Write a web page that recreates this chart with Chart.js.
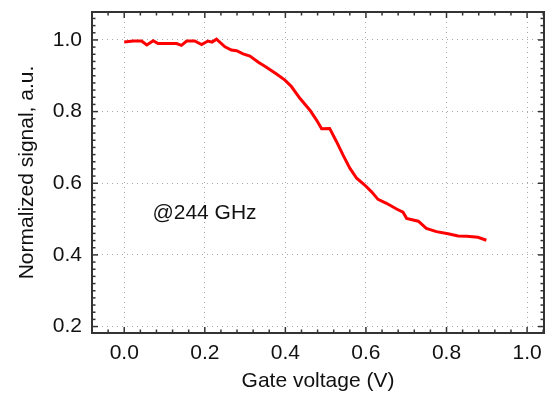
<!DOCTYPE html>
<html>
<head>
<meta charset="utf-8">
<script src="https://cdn.jsdelivr.net/npm/chart.js@4/dist/chart.umd.min.js"></script>
<style>
  html, body { margin: 0; padding: 0; background: #fff; }
  canvas { display: block; }
</style>
</head>
<body>
<canvas id="c" width="556" height="394"></canvas>
<script>
const voltage = [0, 0.022, 0.043, 0.056, 0.072, 0.084, 0.13, 0.142, 0.155, 0.175, 0.192, 0.208, 0.218, 0.229, 0.25, 0.266, 0.279, 0.295, 0.312, 0.333, 0.353, 0.378, 0.399, 0.415, 0.436, 0.461, 0.477, 0.49, 0.51, 0.527, 0.543, 0.56, 0.577, 0.597, 0.614, 0.63, 0.651, 0.676, 0.692, 0.701, 0.73, 0.75, 0.775, 0.804, 0.829, 0.85, 0.878, 0.899];
const signal = [0.994, 0.997, 0.997, 0.986, 0.998, 0.99, 0.99, 0.985, 0.997, 0.997, 0.987, 0.997, 0.994, 1.002, 0.981, 0.972, 0.97, 0.961, 0.955, 0.938, 0.924, 0.905, 0.888, 0.87, 0.837, 0.804, 0.777, 0.752, 0.753, 0.716, 0.679, 0.642, 0.614, 0.595, 0.576, 0.555, 0.544, 0.528, 0.519, 0.502, 0.494, 0.474, 0.465, 0.459, 0.453, 0.452, 0.449, 0.441];
const xTicks = [0.0, 0.2, 0.4, 0.6, 0.8, 1.0];
const yTicks = [0.2, 0.4, 0.6, 0.8, 1.0];
const xTitle = 'Gate voltage (V)';
const yTitle = 'Normalized signal, a.u.';
const annotation = '@244 GHz';
const annotationPos = [0.07, 0.517];

const FONT = "'Liberation Sans', Arial, sans-serif";

const framePlugin = {
  id: 'frame',
  afterDraw(chart) {
    const {ctx, chartArea: a, scales: {x, y}} = chart;
    ctx.save();
    ctx.strokeStyle = '#333';
    ctx.lineWidth = 1.5;
    const xMin = x.min, xMax = x.max, yMin = y.min, yMax = y.max;
    const tick = (x1, y1, x2, y2) => { ctx.beginPath(); ctx.moveTo(x1, y1); ctx.lineTo(x2, y2); ctx.stroke(); };
    for (let i = Math.ceil(xMin / 0.04 - 1e-6); i * 0.04 <= xMax + 1e-9; i++) {
      const v = i * 0.04;
      const major = Math.abs(v / 0.2 - Math.round(v / 0.2)) < 1e-6;
      const len = major ? 6 : 3.5;
      const px = x.getPixelForValue(v);
      tick(px, a.bottom, px, a.bottom - len);
      tick(px, a.top, px, a.top + len);
    }
    for (let i = Math.ceil(yMin / 0.02 - 1e-6); i * 0.02 <= yMax + 1e-9; i++) {
      const v = i * 0.02;
      const major = Math.abs(v / 0.2 - Math.round(v / 0.2)) < 1e-6;
      const len = major ? 6 : 3.5;
      const py = y.getPixelForValue(v);
      tick(a.left, py, a.left + len, py);
      tick(a.right, py, a.right - len, py);
    }
    ctx.lineWidth = 2;
    ctx.strokeRect(a.left, a.top, a.right - a.left, a.bottom - a.top);
    ctx.fillStyle = '#111';
    ctx.font = '21px ' + FONT;
    ctx.textAlign = 'left';
    ctx.textBaseline = 'middle';
    ctx.fillText(annotation, x.getPixelForValue(annotationPos[0]), y.getPixelForValue(annotationPos[1]));
    ctx.restore();
  }
};

const grid = {
  color: '#a8a8a8',
  lineWidth: 1,
  drawTicks: false,
  tickLength: 0
};

new Chart(document.getElementById('c'), {
  type: 'line',
  data: {
    datasets: [{
      data: voltage.map((v, i) => ({x: v, y: signal[i]})),
      borderColor: '#ff0000',
      borderWidth: 3,
      pointRadius: 0,
      tension: 0,
      fill: false
    }]
  },
  options: {
    responsive: false,
    animation: false,
    layout: { padding: { top: 12, right: 12, left: 0, bottom: 0 } },
    plugins: { legend: { display: false }, tooltip: { enabled: false } },
    scales: {
      x: {
        type: 'linear',
        min: -0.08,
        max: 1.042,
        afterBuildTicks: s => { s.ticks = xTicks.map(v => ({value: v})); },
        afterFit: s => { s.height = 61; s.paddingLeft = 0; s.paddingRight = 0; s.paddingTop = 0; s.paddingBottom = 0; },
        grid: Object.assign({}, grid),
        border: { display: false, dash: [1, 4] },
        ticks: {
          padding: 8,
          color: '#111',
          font: { family: FONT, size: 21 },
          callback: v => v.toFixed(1)
        },
        title: {
          display: true,
          text: xTitle,
          color: '#111',
          font: { family: FONT, size: 21 },
          padding: { top: 0, bottom: 0 }
        }
      },
      y: {
        type: 'linear',
        min: 0.182,
        max: 1.078,
        afterBuildTicks: s => { s.ticks = yTicks.map(v => ({value: v})); },
        afterFit: s => { s.width = 92; s.paddingTop = 0; s.paddingBottom = 0; s.paddingLeft = 0; s.paddingRight = 0; },
        grid: Object.assign({}, grid),
        border: { display: false, dash: [1, 4] },
        ticks: {
          padding: 10,
          color: '#111',
          font: { family: FONT, size: 21 },
          callback: v => v.toFixed(1)
        },
        title: {
          display: true,
          text: yTitle,
          color: '#111',
          font: { family: FONT, size: 21 },
          padding: { top: 15, bottom: 0 }
        }
      }
    }
  },
  plugins: [framePlugin]
});
</script>
</body>
</html>
